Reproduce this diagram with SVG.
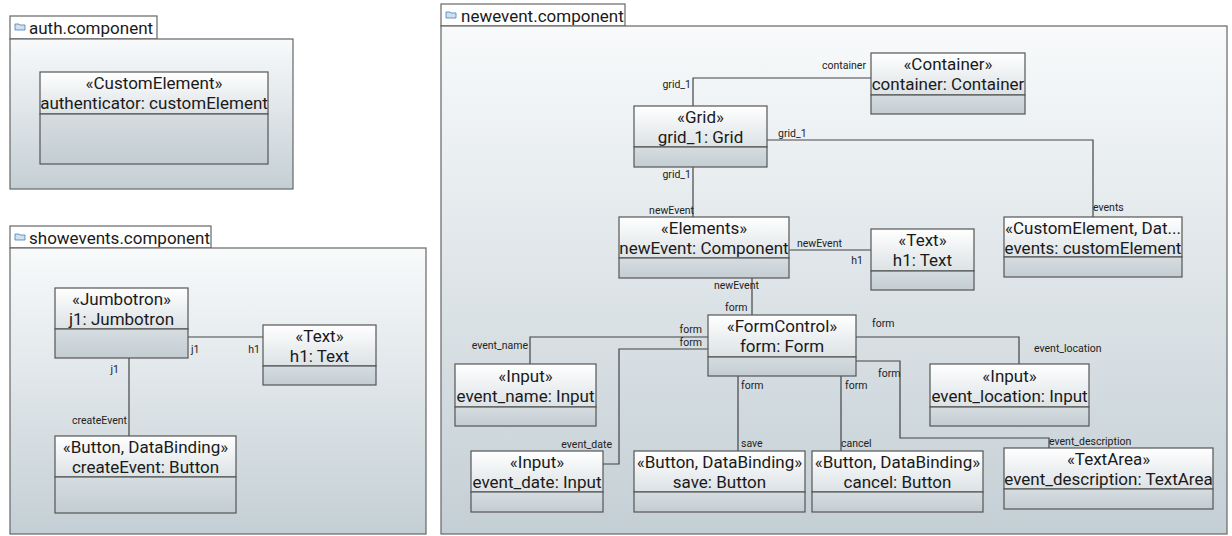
<svg xmlns="http://www.w3.org/2000/svg" width="1232" height="536" viewBox="0 0 1232 536">
<defs>
<linearGradient id="pkg" x1="0" y1="0" x2="0" y2="1"><stop offset="0" stop-color="#f8fafb"/><stop offset="1" stop-color="#c4cfd5"/></linearGradient>
<linearGradient id="hdr" x1="0" y1="0" x2="0" y2="1"><stop offset="0" stop-color="#ffffff"/><stop offset="1" stop-color="#dce2e5"/></linearGradient>
<linearGradient id="cmp" x1="0" y1="0" x2="0" y2="1"><stop offset="0" stop-color="#d6dde1"/><stop offset="1" stop-color="#c3cdd2"/></linearGradient>
</defs>
<style>
.pkg{fill:url(#pkg);stroke:#666;stroke-width:1.2}
.tab{fill:#fff;stroke:#666;stroke-width:1.2}
.hdr{fill:url(#hdr);stroke:#555;stroke-width:1.2}
.cmp{fill:url(#cmp);stroke:#555;stroke-width:1.2}
.t{font-family:Roboto,"Liberation Sans",sans-serif;font-size:17px;fill:#1a1a1a;text-anchor:middle}
.pt{font-family:Roboto,"Liberation Sans",sans-serif;font-size:17px;fill:#1a1a1a}
.l{font-family:Roboto,"Liberation Sans",sans-serif;font-size:10.5px;fill:#222}
.e{text-anchor:end}
.c{fill:none;stroke:#444;stroke-width:1.2}
.ic{fill:#cfe0f0;stroke:#4a7fb5;stroke-width:0.8}
</style>
<g id="pkg-auth">
<rect class="tab" x="10" y="16" width="147" height="23"/>
<rect class="pkg" x="10" y="39" width="283" height="150"/>
<path class="ic" d="M15 24h4l1 1h5v5h-10z"/>
<text class="pt" x="29" y="34">auth.component</text>
</g>
<g id="pkg-showevents">
<rect class="tab" x="10" y="226" width="201" height="22"/>
<rect class="pkg" x="10" y="248" width="416" height="286"/>
<path class="ic" d="M15 234h4l1 1h5v5h-10z"/>
<text class="pt" x="29" y="244">showevents.component</text>
</g>
<g id="pkg-newevent">
<rect class="tab" x="441" y="4" width="184" height="22"/>
<rect class="pkg" x="441" y="26" width="786" height="508"/>
<path class="ic" d="M446 12h4l1 1h5v5h-10z"/>
<text class="pt" x="461" y="22">newevent.component</text>
</g>
<g id="connectors">
<path class="c" d="M188 337H263"/>
<path class="c" d="M129 358V436"/>
<path class="c" d="M693 106V78H871"/>
<path class="c" d="M767 140H1093V217"/>
<path class="c" d="M693 167V217"/>
<path class="c" d="M789 250H871"/>
<path class="c" d="M752 278V315"/>
<path class="c" d="M708 337H530V364"/>
<path class="c" d="M708 349H619V464H603"/>
<path class="c" d="M738 376V451"/>
<path class="c" d="M841 376V451"/>
<path class="c" d="M856 337H1019V364"/>
<path class="c" d="M856 361H900V438H1049V448"/>
<text class="l" x="191" y="353">j1</text>
<text class="l e" x="260" y="353">h1</text>
<text class="l e" x="119" y="373">j1</text>
<text class="l e" x="127" y="424">createEvent</text>
<text class="l e" x="866" y="69">container</text>
<text class="l e" x="691" y="88">grid_1</text>
<text class="l" x="778" y="137">grid_1</text>
<text class="l" x="1093" y="211">events</text>
<text class="l e" x="691" y="178">grid_1</text>
<text class="l e" x="694" y="214">newEvent</text>
<text class="l" x="797" y="247">newEvent</text>
<text class="l e" x="863" y="264">h1</text>
<text class="l" x="714" y="289">newEvent</text>
<text class="l" x="725" y="311">form</text>
<text class="l e" x="702" y="333">form</text>
<text class="l e" x="528" y="349">event_name</text>
<text class="l e" x="702" y="346">form</text>
<text class="l e" x="612" y="448">event_date</text>
<text class="l" x="741" y="389">form</text>
<text class="l" x="741" y="447">save</text>
<text class="l" x="845" y="389">form</text>
<text class="l" x="841" y="447">cancel</text>
<text class="l" x="872" y="327">form</text>
<text class="l" x="1034" y="352">event_location</text>
<text class="l" x="878" y="377">form</text>
<text class="l" x="1049" y="445">event_description</text>
</g>
<g id="authenticator">
<rect class="hdr" x="40" y="72" width="228" height="42"/><rect class="cmp" x="40" y="114" width="228" height="50"/>
<text class="t" x="154" y="89">«CustomElement»</text><text class="t" x="154" y="109">authenticator: customElement</text>
</g>
<g id="j1">
<rect class="hdr" x="55" y="288" width="133" height="41"/><rect class="cmp" x="55" y="329" width="133" height="29"/>
<text class="t" x="121.5" y="305">«Jumbotron»</text><text class="t" x="121.5" y="325">j1: Jumbotron</text>
</g>
<g id="h1-show">
<rect class="hdr" x="263" y="325" width="113" height="41"/><rect class="cmp" x="263" y="366" width="113" height="19"/>
<text class="t" x="319.5" y="342">«Text»</text><text class="t" x="319.5" y="362">h1: Text</text>
</g>
<g id="createEvent">
<rect class="hdr" x="55" y="436" width="181" height="41"/><rect class="cmp" x="55" y="477" width="181" height="36"/>
<text class="t" x="145.5" y="453">«Button, DataBinding»</text><text class="t" x="145.5" y="473">createEvent: Button</text>
</g>
<g id="container">
<rect class="hdr" x="871" y="53" width="154" height="42"/><rect class="cmp" x="871" y="95" width="154" height="19"/>
<text class="t" x="948" y="70">«Container»</text><text class="t" x="948" y="90">container: Container</text>
</g>
<g id="grid_1">
<rect class="hdr" x="634" y="106" width="133" height="41"/><rect class="cmp" x="634" y="147" width="133" height="20"/>
<text class="t" x="700.5" y="123">«Grid»</text><text class="t" x="700.5" y="143">grid_1: Grid</text>
</g>
<g id="events">
<rect class="hdr" x="1004" y="217" width="178" height="40"/><rect class="cmp" x="1004" y="257" width="178" height="20"/>
<text class="t" x="1093" y="234">«CustomElement, Dat...</text><text class="t" x="1093" y="254">events: customElement</text>
</g>
<g id="newEvent">
<rect class="hdr" x="619" y="217" width="170" height="41"/><rect class="cmp" x="619" y="258" width="170" height="20"/>
<text class="t" x="704" y="234">«Elements»</text><text class="t" x="704" y="254">newEvent: Component</text>
</g>
<g id="h1-new">
<rect class="hdr" x="871" y="229" width="103" height="42"/><rect class="cmp" x="871" y="271" width="103" height="19"/>
<text class="t" x="922.5" y="246">«Text»</text><text class="t" x="922.5" y="266">h1: Text</text>
</g>
<g id="form">
<rect class="hdr" x="708" y="315" width="148" height="42"/><rect class="cmp" x="708" y="357" width="148" height="19"/>
<text class="t" x="782" y="332">«FormControl»</text><text class="t" x="782" y="352">form: Form</text>
</g>
<g id="event_name">
<rect class="hdr" x="455" y="364" width="141" height="43"/><rect class="cmp" x="455" y="407" width="141" height="19"/>
<text class="t" x="525.5" y="382">«Input»</text><text class="t" x="525.5" y="402">event_name: Input</text>
</g>
<g id="event_location">
<rect class="hdr" x="930" y="364" width="159" height="43"/><rect class="cmp" x="930" y="407" width="159" height="19"/>
<text class="t" x="1009.5" y="382">«Input»</text><text class="t" x="1009.5" y="402">event_location: Input</text>
</g>
<g id="event_date">
<rect class="hdr" x="471" y="451" width="132" height="41"/><rect class="cmp" x="471" y="492" width="132" height="20"/>
<text class="t" x="537" y="468">«Input»</text><text class="t" x="537" y="488">event_date: Input</text>
</g>
<g id="save">
<rect class="hdr" x="634" y="451" width="171" height="41"/><rect class="cmp" x="634" y="492" width="171" height="20"/>
<text class="t" x="719.5" y="468">«Button, DataBinding»</text><text class="t" x="719.5" y="488">save: Button</text>
</g>
<g id="cancel">
<rect class="hdr" x="812" y="451" width="171" height="41"/><rect class="cmp" x="812" y="492" width="171" height="20"/>
<text class="t" x="897.5" y="468">«Button, DataBinding»</text><text class="t" x="897.5" y="488">cancel: Button</text>
</g>
<g id="event_description">
<rect class="hdr" x="1004" y="448" width="209" height="41"/><rect class="cmp" x="1004" y="489" width="209" height="20"/>
<text class="t" x="1108.5" y="465">«TextArea»</text><text class="t" x="1108.5" y="485">event_description: TextArea</text>
</g>
</svg>
